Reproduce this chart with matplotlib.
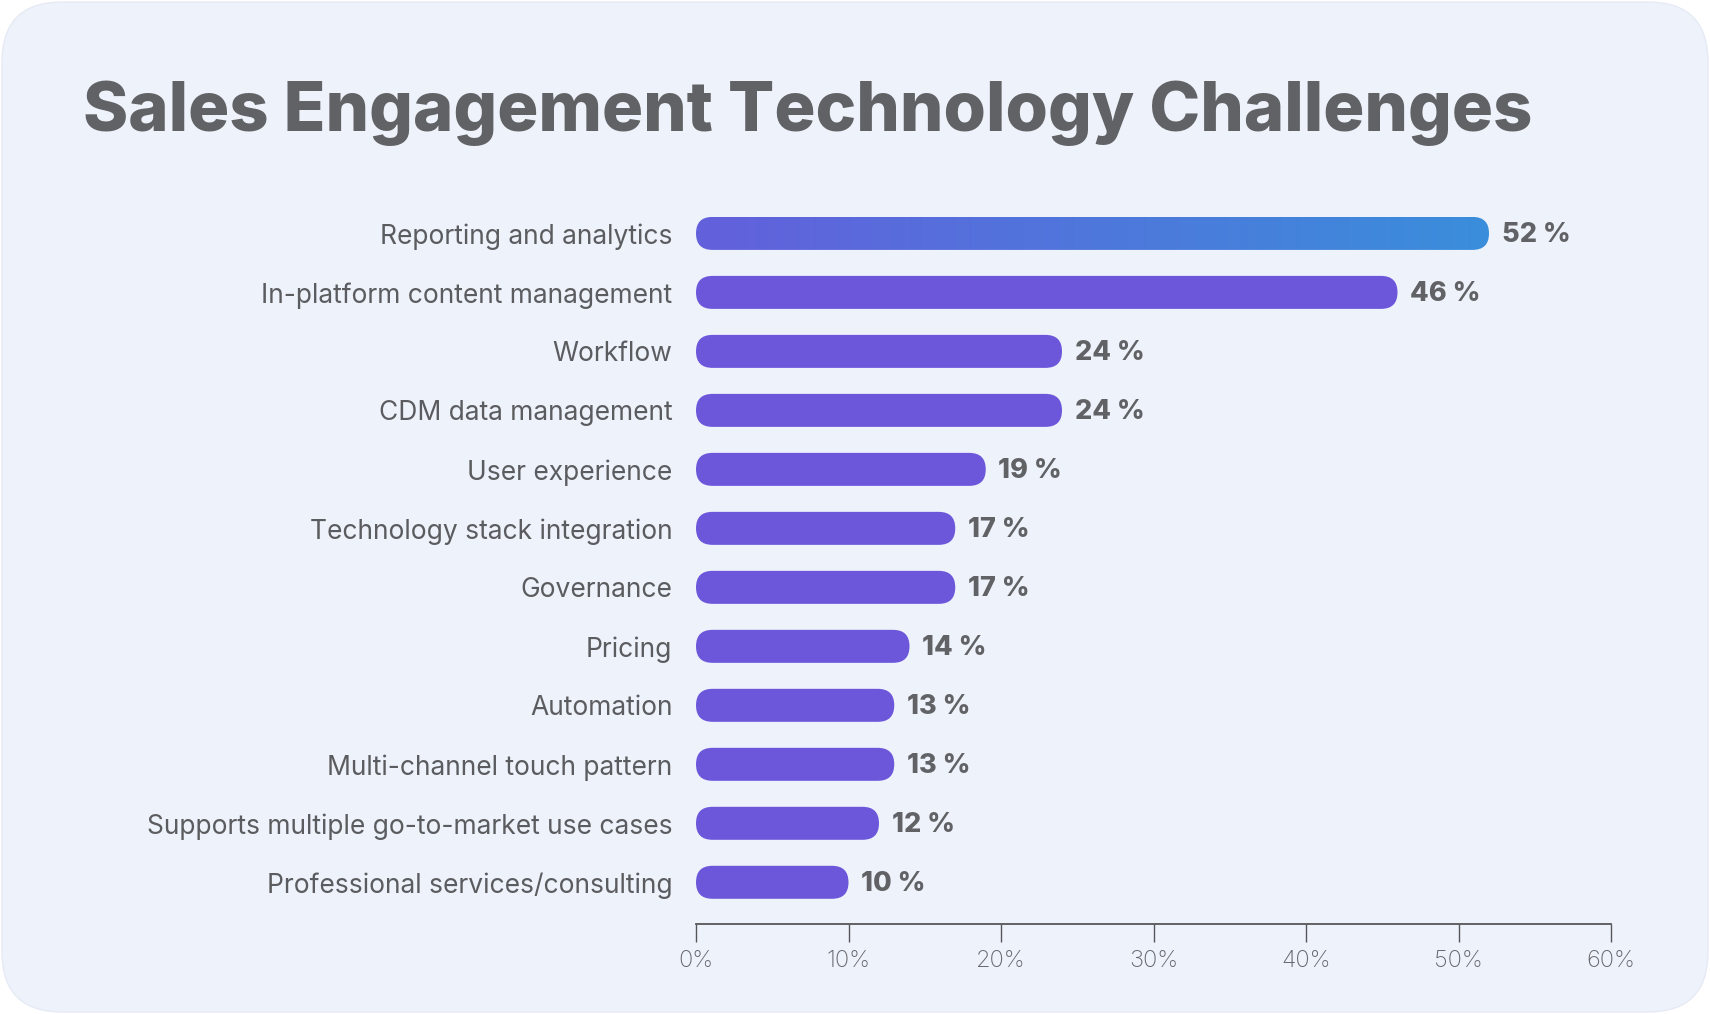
import matplotlib.pyplot as plt
import numpy as np
from matplotlib.patches import FancyBboxPatch
from matplotlib.colors import LinearSegmentedColormap

categories = ["Reporting and analytics", "In-platform content management", "Workflow",
              "CDM data management", "User experience", "Technology stack integration",
              "Governance", "Pricing", "Automation", "Multi-channel touch pattern",
              "Supports multiple go-to-market use cases", "Professional services/consulting"]
values = [52, 46, 24, 24, 19, 17, 17, 14, 13, 13, 12, 10]
ticks = [0, 10, 20, 30, 40, 50, 60]
tick_labels = ["0%", "10%", "20%", "30%", "40%", "50%", "60%"]

W, H = 1710, 1014
grey = "#616265"
purple = "#6c57db"
fam = ["Inter", "DejaVu Sans"]

fig = plt.figure(figsize=(W / 100, H / 100), dpi=100, facecolor="white")

# rounded card behind everything
bg = fig.add_axes([0, 0, 1, 1])
bg.set_xlim(0, W)
bg.set_ylim(0, H)
bg.axis("off")
bg.add_patch(FancyBboxPatch((2, 2), W - 4, H - 4, boxstyle="round,pad=0,rounding_size=60",
                            facecolor="#eef2fb", edgecolor="#e6eaf5", lw=1))

fig.text(83 / W, 1 - 131 / H, "Sales Engagement Technology Challenges",
         fontsize=49.4, fontweight="heavy", family=fam,
         color=grey, ha="left", va="baseline")

# plot area (pixel box of the axes)
x0, x1 = 696, 1611
ytop, ybot = 191.7, 924
ax = fig.add_axes([x0 / W, 1 - ybot / H, (x1 - x0) / W, (ybot - ytop) / H])
ax.patch.set_alpha(0)
ax.set_xlim(0, 60)
ax.set_ylim(len(values) - 1 + 0.707, -0.707)

px_x = (x1 - x0) / 60.0           # pixels per % unit
px_y = (ybot - ytop) / (len(values) + 0.414)  # pixels per row
bar_h = 33 / px_y
r_x = 16.5 / px_x
aspect = (bar_h / 2) / r_x

cmap = LinearSegmentedColormap.from_list("grad", ["#6360dc", "#3a8edb"])

for i, (cat, v) in enumerate(zip(categories, values)):
    patch = FancyBboxPatch((0, i - bar_h / 2), v, bar_h,
                           boxstyle=f"round,pad=0,rounding_size={r_x}",
                           mutation_aspect=aspect,
                           facecolor=purple if i > 0 else "none", edgecolor="none")
    ax.add_patch(patch)
    if i == 0:
        grad = np.linspace(0, 1, 256).reshape(1, -1)
        im = ax.imshow(grad, cmap=cmap, aspect="auto",
                       extent=(0, v, i + bar_h / 2, i - bar_h / 2), zorder=2)
        im.set_clip_path(patch)
    ax.annotate(f"{v} %", (v, i), xytext=(9, -1), textcoords="offset points",
                ha="left", va="center", fontsize=19.5, fontweight="heavy",
                family=fam, color=grey)

ax.set_yticks(range(len(categories)))
ax.set_yticklabels(categories, fontsize=19, color="#5b5c5f", family=fam)
ax.tick_params(axis="y", length=0, pad=17)
ax.set_xticks(ticks)
ax.set_xticklabels(tick_labels, fontsize=17, color="#66676b", family=fam,
                   fontweight="light")
ax.tick_params(axis="x", length=13, width=1, color="#555659", pad=6)
for s in ["top", "right", "left"]:
    ax.spines[s].set_visible(False)
ax.spines["bottom"].set_color("#555659")
ax.spines["bottom"].set_linewidth(1.3)

fig.savefig("out.png", dpi=100, facecolor="white")
